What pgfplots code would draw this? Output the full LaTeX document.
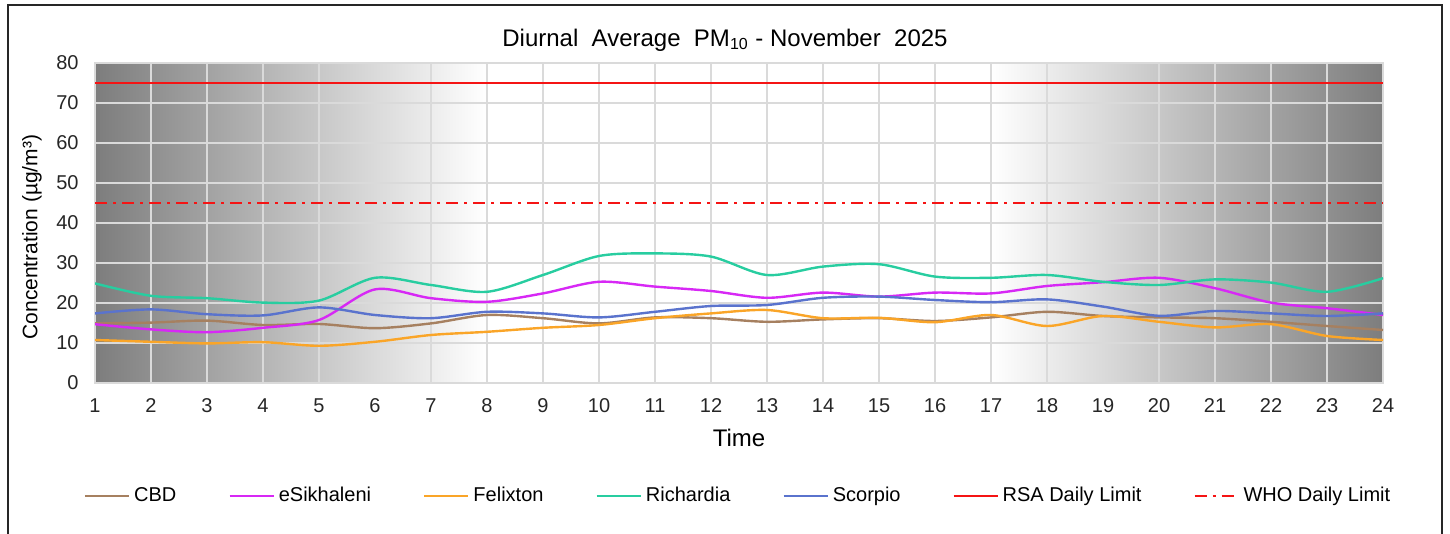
\documentclass[border=0pt]{standalone}
\usepackage{fontspec}
\setmainfont{Liberation Sans}
\usepackage{pgfplots}
\pgfplotsset{compat=1.18}

\definecolor{CBDc}{RGB}{166,128,96}
\definecolor{ESIc}{RGB}{215,40,245}
\definecolor{FELc}{RGB}{250,165,40}
\definecolor{RICc}{RGB}{40,205,160}
\definecolor{SCOc}{RGB}{90,115,205}
\definecolor{LimRed}{RGB}{245,20,20}
\definecolor{GridC}{RGB}{218,218,218}
\definecolor{GradDark}{RGB}{125,125,125}

\begin{document}
\begin{tikzpicture}
\begin{axis}[
  set layers,
  scale only axis,
  width=644pt, height=160pt,
  xmin=1, xmax=24, ymin=0, ymax=80,
  xtick={1,...,24}, ytick={0,10,...,80},
  grid=major,
  major grid style={draw=GridC, line width=1pt},
  major tick length=0pt,
  axis line style={draw=GridC, line width=0.8pt},
  /pgf/number format/assume math mode=true,
  tick label style={font=\fontsize{10}{12}\selectfont, text=black!85},
  yticklabel style={anchor=east, inner sep=0pt, xshift=-8pt},
  xticklabel style={anchor=center, inner sep=0pt, yshift=-11.5pt},
  title={Diurnal\ \ Average\ \ PM\textsubscript{10} - November\ \ 2025},
  every axis title/.style={at={(axis description cs:0.4891,1.0719)},
    anchor=center, font=\fontsize{12}{14}\selectfont},
  xlabel={Time},
  xlabel style={at={(axis description cs:0.5,-0.172)}, anchor=center,
    font=\fontsize{12}{14}\selectfont},
  ylabel={Concentration (µg/m³)},
  ylabel style={at={(axis description cs:-0.0489,0.456)}, anchor=center,
    font=\fontsize{10.5}{12}\selectfont},
  legend columns=7,
  legend style={at={(axis description cs:0.5,-0.353)}, anchor=center,
    draw=none, fill=none, font=\fontsize{10}{12}\selectfont,
    /tikz/every even column/.append style={column sep=24pt}},
  legend image code/.code={\draw[#1] (0pt,0pt) -- (22pt,0pt);},
  every axis plot/.append style={line width=1.2pt},
]
\begin{pgfonlayer}{axis background}
\fill[left color=GradDark, right color=white] (axis cs:1,0) rectangle (axis cs:8,80);
\fill[left color=white, right color=GradDark] (axis cs:17,0) rectangle (axis cs:24,80);
\end{pgfonlayer}

% CBD
\addplot[CBDc, smooth] coordinates {
  (1,14.9)(2,15.1)(3,15.6)(4,14.5)(5,14.75)(6,13.7)(7,14.9)(8,17.0)
  (9,16.2)(10,14.9)(11,16.4)(12,16.2)(13,15.3)(14,15.9)(15,16.2)(16,15.5)
  (17,16.4)(18,17.8)(19,16.75)(20,16.4)(21,16.2)(22,15.3)(23,14.25)(24,13.25)};
% eSikhaleni
\addplot[ESIc, smooth] coordinates {
  (1,14.7)(2,13.4)(3,12.7)(4,13.8)(5,15.75)(6,23.4)(7,21.2)(8,20.3)
  (9,22.4)(10,25.3)(11,24.1)(12,23.0)(13,21.3)(14,22.6)(15,21.6)(16,22.6)
  (17,22.4)(18,24.25)(19,25.2)(20,26.3)(21,23.7)(22,20.1)(23,18.7)(24,17.0)};
% Felixton
\addplot[FELc, smooth] coordinates {
  (1,10.75)(2,10.3)(3,9.9)(4,10.2)(5,9.3)(6,10.3)(7,12.0)(8,12.8)
  (9,13.8)(10,14.5)(11,16.2)(12,17.4)(13,18.25)(14,16.2)(15,16.3)(16,15.2)
  (17,17.0)(18,14.25)(19,16.75)(20,15.3)(21,13.9)(22,14.7)(23,11.75)(24,10.75)};
% Richardia
\addplot[RICc, smooth] coordinates {
  (1,24.9)(2,21.8)(3,21.2)(4,20.1)(5,20.6)(6,26.3)(7,24.5)(8,22.8)
  (9,27.0)(10,31.75)(11,32.4)(12,31.6)(13,27.0)(14,29.1)(15,29.7)(16,26.6)
  (17,26.3)(18,27.0)(19,25.3)(20,24.5)(21,25.9)(22,25.1)(23,22.8)(24,26.2)};
% Scorpio
\addplot[SCOc, smooth] coordinates {
  (1,17.4)(2,18.4)(3,17.2)(4,16.9)(5,18.9)(6,17.0)(7,16.2)(8,17.8)
  (9,17.4)(10,16.4)(11,17.8)(12,19.25)(13,19.5)(14,21.3)(15,21.6)(16,20.75)
  (17,20.2)(18,20.9)(19,19.1)(20,16.8)(21,18.0)(22,17.4)(23,16.75)(24,17.4)};
% limits
\addplot[LimRed, line width=1pt] coordinates {(1,75)(24,75)};
\addplot[LimRed, line width=1pt, dash pattern=on 6pt off 3pt on 1.5pt off 3pt] coordinates {(1,45)(24,45)};

\legend{CBD, eSikhaleni, Felixton, Richardia, Scorpio, RSA Daily Limit, WHO Daily Limit}
\end{axis}
\pgfresetboundingbox
\useasboundingbox (-47.5pt,-75.5pt) rectangle (677.5pt,191.5pt);
\draw[line width=0.9pt, black!85] (-43.5pt,-80pt) -- (-43.5pt,189pt) -- (673.5pt,189pt) -- (673.5pt,-80pt);
\end{tikzpicture}
\end{document}
